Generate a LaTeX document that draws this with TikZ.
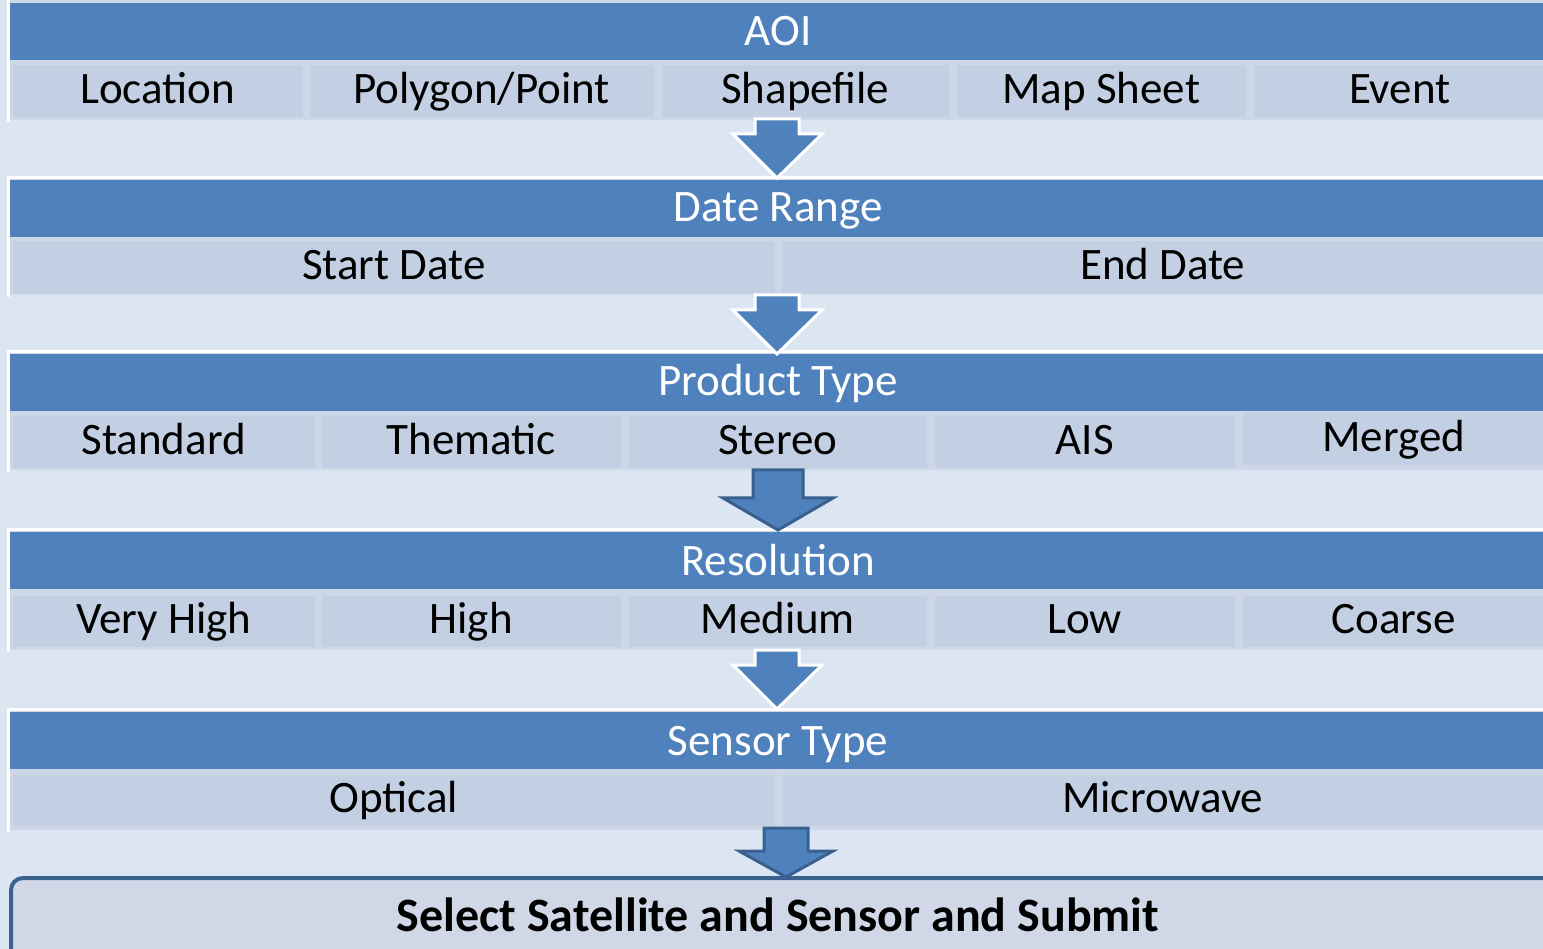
\documentclass[tikz,border=0pt]{standalone}
\usepackage{fontspec}
\setmainfont{Carlito}
\usetikzlibrary{calc}
\definecolor{bg}{HTML}{DCE6F2}
\definecolor{hdr}{HTML}{4F81BD}
\definecolor{cell}{HTML}{C3CFE2}
\definecolor{cellb}{HTML}{CED7E7}
\definecolor{dk}{HTML}{3A6090}
\definecolor{boxf}{HTML}{D0D8E8}
\begin{document}
\begin{tikzpicture}[x=1pt,y=-1pt,
  hdrbox/.style={fill=hdr, draw=none, anchor=north west, minimum height=57pt, inner sep=0pt},
  hdrtext/.style={text=white, font=\fontsize{45}{50}\selectfont, inner sep=0pt, anchor=base},
  cellbox/.style={fill=cell, draw=cellb, line width=2.5pt, anchor=north west, minimum height=54pt, inner sep=0pt,
    text=black, font=\fontsize{45}{50}\selectfont, text height=33pt, text depth=8pt},
  frame/.style={fill=cellb, draw=none},
  wline/.style={draw=white, line width=2.5pt},
  arrw/.style={fill=hdr, draw=white, line width=3pt, line join=miter},
  arrd/.style={fill=hdr, draw=dk, line width=3pt, line join=miter},
  finalbox/.style={fill=boxf, draw=dk, line width=4pt, rounded corners=12pt},
  finaltext/.style={font=\fontsize{48}{54}\selectfont\bfseries, text=black, inner sep=0pt}
]
\useasboundingbox (0,0) rectangle (1543,949);
\clip (0,0) rectangle (1543,949);
\fill[bg] (0,0) rectangle (1543,949);

% ---------- Section 1: AOI ----------
\fill[frame] (8,0) rectangle (1545,120);
\draw[wline] (8.5,122) -- (8.5,0);
\node[hdrbox, minimum width=1540pt] (aoi) at (10,3) {};
\node[hdrtext] (aoit) at (778,46) {AOI};
\node[cellbox, minimum width=293pt] (loc) at (10,63) {Location};
\node[cellbox, minimum width=347pt] (poly) at (307,63) {Polygon/Point};
\node[cellbox, minimum width=290pt] (shp) at (659,63) {Shapefile};
\node[cellbox, minimum width=292pt] (map) at (954,63) {Map Sheet};
\node[cellbox, minimum width=295pt] (evt) at (1251,63) {Event};

% ---------- Section 2: Date Range ----------
\fill[frame] (8,176) rectangle (1545,295);
\draw[wline] (8.5,297) -- (8.5,177.5) -- (1545,177.5);
\node[hdrbox, minimum width=1540pt] (date) at (10,180) {};
\node[hdrtext] (datet) at (778,222) {Date Range};
\node[cellbox, minimum width=765pt] (start) at (10,239) {Start Date};
\node[cellbox, minimum width=765pt] (end) at (779,239) {End Date};

% ---------- Section 3: Product Type ----------
\fill[frame] (8,350) rectangle (1545,470);
\draw[wline] (8.5,472) -- (8.5,351.5) -- (1545,351.5);
\node[hdrbox, minimum width=1540pt] (prod) at (10,354) {};
\node[hdrtext] (prodt) at (778,396) {Product Type};
\node[cellbox, minimum width=305pt] (std) at (10,414) {Standard};
\node[cellbox, minimum width=302pt] (them) at (319,414) {Thematic};
\node[cellbox, minimum width=301pt] (ster) at (626,414) {Stereo};
\node[cellbox, minimum width=303pt] (ais) at (932,414) {AIS};
\node[cellbox, minimum width=305pt] (merg) at (1240,411) {Merged};

% ---------- Section 4: Resolution ----------
\fill[frame] (8,528) rectangle (1545,650);
\draw[wline] (8.5,652) -- (8.5,529.5) -- (1545,529.5);
\node[hdrbox, minimum width=1540pt] (res) at (10,532) {};
\node[hdrtext] (rest) at (778,575) {Resolution};
\node[cellbox, minimum width=305pt] (vh) at (10,593) {Very High};
\node[cellbox, minimum width=302pt] (hi) at (319,593) {High};
\node[cellbox, minimum width=301pt] (med) at (626,593) {Medium};
\node[cellbox, minimum width=303pt] (low) at (932,593) {Low};
\node[cellbox, minimum width=305pt] (coarse) at (1240,593) {Coarse};

% ---------- Section 5: Sensor Type ----------
\fill[frame] (8,708) rectangle (1545,830);
\draw[wline] (8.5,832) -- (8.5,709.5) -- (1545,709.5);
\node[hdrbox, minimum width=1540pt] (sens) at (10,712) {};
\node[hdrtext] (senst) at (778,755) {Sensor Type};
\node[cellbox, minimum width=765pt] (opt) at (10,772) {Optical};
\node[cellbox, minimum width=765pt] (micro) at (779,772) {Microwave};

% ---------- Final box ----------
\draw[finalbox] (11,878) rectangle (1560,960);
\node[finaltext, anchor=base] (final) at (778,931) {Select Satellite and Sensor and Submit};

% ---------- Block arrows ----------
\draw[arrw] (755,119) -- (799,119) -- (799,134) -- (822,134) -- (777,178) -- (733,134) -- (755,134) -- cycle;
\draw[arrw] (755,295) -- (799,295) -- (799,310) -- (822,310) -- (777,354) -- (733,310) -- (755,310) -- cycle;
\draw[arrd] (753,470) -- (803,470) -- (803,498) -- (833,498) -- (778,530) -- (723,498) -- (753,498) -- cycle;
\draw[arrw] (755,650) -- (799,650) -- (799,665) -- (822,665) -- (777,709) -- (733,665) -- (755,665) -- cycle;
\draw[arrd] (764,828) -- (808,828) -- (808,851) -- (833,851) -- (786,877) -- (739,851) -- (764,851) -- cycle;
\end{tikzpicture}
\end{document}
